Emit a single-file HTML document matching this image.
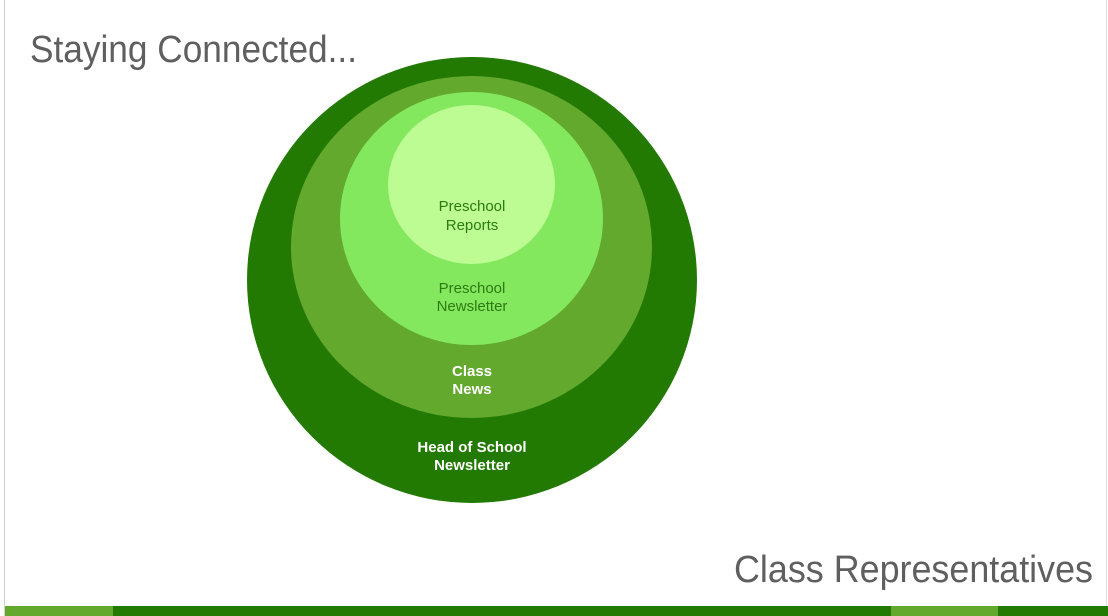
<!DOCTYPE html>
<html><head><meta charset="utf-8"><style>
html,body{margin:0;padding:0;background:#fff;}
svg{display:block;}
</style></head><body>
<svg width="1108" height="616" viewBox="0 0 1108 616" xmlns="http://www.w3.org/2000/svg">
<rect x="0" y="0" width="1108" height="616" fill="#fff"/>
<rect x="4" y="0" width="1" height="616" fill="#d0d0d0"/>
<rect x="1106" y="0" width="1" height="606" fill="#e0e0e0"/>
<text x="30" y="62" font-family="Liberation Sans, sans-serif" font-size="38" fill="#5f5f5f" textLength="327" lengthAdjust="spacingAndGlyphs">Staying Connected...</text>
<text x="734" y="582" font-family="Liberation Sans, sans-serif" font-size="38" fill="#5f5f5f" textLength="359" lengthAdjust="spacingAndGlyphs">Class Representatives</text>
<ellipse cx="472" cy="280" rx="225" ry="223" fill="#237a03"/>
<ellipse cx="471.5" cy="247" rx="180.5" ry="171" fill="#63a92e"/>
<ellipse cx="471.5" cy="218.5" rx="131.5" ry="126.5" fill="#84e85f"/>
<ellipse cx="471.5" cy="184.5" rx="83.5" ry="79.5" fill="#bdfc93"/>
<g font-family="Liberation Sans, sans-serif" font-size="15" text-anchor="middle">
<text x="472" y="211" fill="#2d7a10">Preschool</text>
<text x="472" y="230" fill="#2d7a10">Reports</text>
<text x="472" y="293" fill="#2d7a10">Preschool</text>
<text x="472" y="311" fill="#2d7a10">Newsletter</text>
<text x="472" y="376" fill="#fff" font-weight="bold">Class</text>
<text x="472" y="394" fill="#fff" font-weight="bold">News</text>
<text x="472" y="452" fill="#fff" font-weight="bold">Head of School</text>
<text x="472" y="470" fill="#fff" font-weight="bold">Newsletter</text>
</g>
<rect x="5" y="606" width="108" height="10" fill="#63a92e"/>
<rect x="113" y="606" width="778" height="10" fill="#237a03"/>
<rect x="891" y="606" width="107" height="10" fill="#63a92e"/>
<rect x="998" y="606" width="110" height="10" fill="#237a03"/>
</svg>
</body></html>
